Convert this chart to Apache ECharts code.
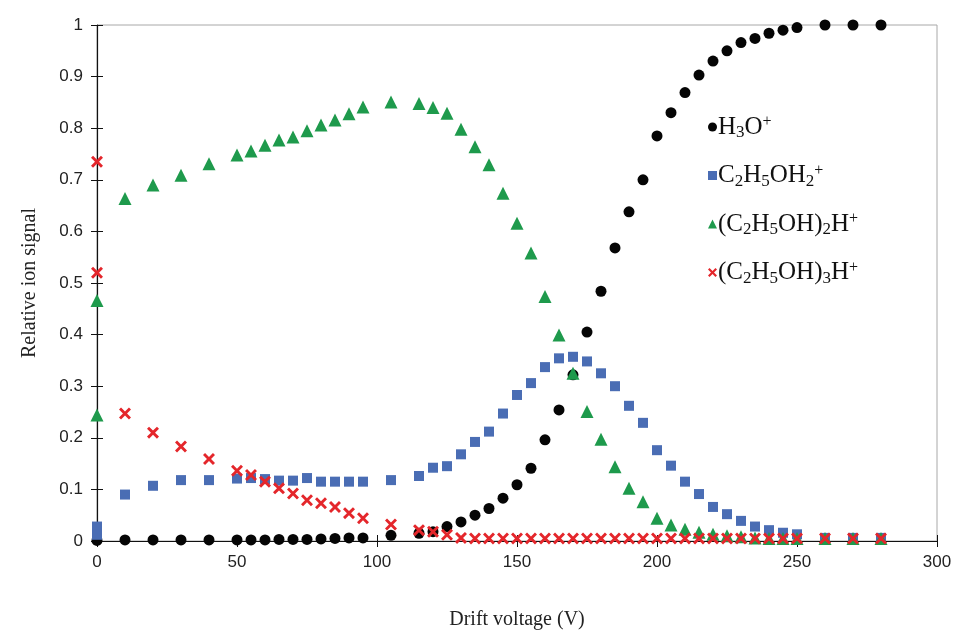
<!DOCTYPE html>
<html>
<head>
<meta charset="utf-8">
<script src="https://cdn.jsdelivr.net/npm/echarts@6/dist/echarts.min.js"></script>
<style>html,body{margin:0;padding:0;background:#fff;}#c{width:959px;height:631px;}</style>
</head>
<body>
<div id="c"></div>
<script>
const voltage = [0,10,20,30,40,50,55,60,65,70,75,80,85,90,95,105,115,120,125,130,135,140,145,150,155,160,165,170,175,180,185,190,195,200,205,210,215,220,225,230,235,240,245,250,260,270,280];
const h3o = [0.001,0.002,0.002,0.002,0.002,0.002,0.002,0.002,0.003,0.003,0.003,0.004,0.005,0.006,0.006,0.011,0.015,0.018,0.028,0.037,0.050,0.063,0.083,0.109,0.141,0.196,0.254,0.322,0.405,0.484,0.568,0.638,0.700,0.785,0.830,0.869,0.903,0.930,0.950,0.966,0.974,0.984,0.990,0.995,1.0,1.0,1.0];
const monomer = [0.028,0.090,0.107,0.118,0.118,0.121,0.122,0.120,0.117,0.117,0.122,0.115,0.115,0.115,0.115,0.118,0.126,0.142,0.145,0.168,0.192,0.212,0.247,0.283,0.306,0.337,0.354,0.357,0.348,0.325,0.300,0.262,0.229,0.176,0.146,0.115,0.091,0.066,0.052,0.039,0.028,0.021,0.016,0.013,0.006,0.006,0.006];
const dimer = [0.466,0.664,0.690,0.709,0.731,0.748,0.756,0.767,0.777,0.783,0.795,0.806,0.816,0.828,0.841,0.851,0.848,0.840,0.829,0.798,0.764,0.729,0.674,0.616,0.558,0.474,0.399,0.325,0.251,0.197,0.144,0.102,0.076,0.044,0.031,0.023,0.017,0.013,0.010,0.008,0.006,0.005,0.005,0.005,0.005,0.005,0.005];
const trimer = [0.735,0.247,0.210,0.183,0.159,0.136,0.128,0.115,0.102,0.092,0.079,0.073,0.066,0.054,0.044,0.032,0.021,0.018,0.012,0.006,0.005,0.005,0.005,0.005,0.005,0.005,0.005,0.005,0.005,0.005,0.005,0.005,0.005,0.005,0.005,0.005,0.005,0.005,0.005,0.005,0.005,0.005,0.005,0.005,0.005,0.005,0.005];
// additional repeated readings at 0 V
const extraV = [0];
const monomerExtra = [0.012];
const dimerExtra = [0.244];
const trimerExtra = [0.520];

const names = ['H3O+','C2H5OH2+','(C2H5OH)2H+','(C2H5OH)3H+'];
const richNames = {
  'H3O+': 'H{sub|3}O{sup|+}',
  'C2H5OH2+': 'C{sub|2}H{sub|5}OH{sub|2}{sup|+}',
  '(C2H5OH)2H+': '(C{sub|2}H{sub|5}OH){sub|2}H{sup|+}',
  '(C2H5OH)3H+': '(C{sub|2}H{sub|5}OH){sub|3}H{sup|+}'
};
const xTicks = [0,50,100,150,200,250,300];

function pairs(xs, ys, ex, ey){
  const out = xs.map((x,i)=>[x, ys[i]]);
  if (ex) ey.forEach((v,i)=>out.push([ex[i%ex.length], v]));
  return out;
}
const xPath = 'path://M0,1.7 L1.7,0 L5,3.3 L8.3,0 L10,1.7 L6.7,5 L10,8.3 L8.3,10 L5,6.7 L1.7,10 L0,8.3 L3.3,5 Z';

const chart = echarts.init(document.getElementById('c'), null, {renderer:'canvas'});
const serif = '"Liberation Serif","Times New Roman",serif';
const sans = '"Liberation Sans",Arial,sans-serif';
chart.setOption({
  animation:false,
  backgroundColor:'#fff',
  grid:{left:97,right:22,top:25,bottom:90,containLabel:false,outerBoundsMode:'none',show:true,borderColor:'#a8a8a8',borderWidth:1},
  legend:{
    orient:'vertical', left:703, top:109, itemGap:21, itemWidth:9, itemHeight:9,
    data:[
      {name:names[0], icon:'circle'},
      {name:names[1], icon:'rect'},
      {name:names[2], icon:'triangle'},
      {name:names[3], icon:xPath}
    ],
    formatter: n => richNames[n],
    textStyle:{fontFamily:serif,fontSize:25,color:'#111',padding:[0,0,0,-4],
      rich:{
        sub:{fontFamily:serif,fontSize:17,color:'#111',padding:[12,0,0,0]},
        sup:{fontFamily:serif,fontSize:16,color:'#111',padding:[0,0,10,0]}
      }}
  },
  xAxis:[{
    type:'value',min:0,max:300,interval:50,
    name:'Drift voltage (V)',nameLocation:'middle',nameGap:69,
    nameTextStyle:{fontFamily:serif,fontSize:20,color:'#222'},
    axisLine:{lineStyle:{color:'#111',width:1.2}},
    axisTick:{show:true,length:6,lineStyle:{color:'#111'}},
    axisLabel:{fontFamily:sans,fontSize:17,color:'#222',margin:13,formatter:v=>xTicks.includes(v)?String(v):''},
    splitLine:{show:false}
  },{
    type:'value',min:0,max:300,interval:50,position:'bottom',
    axisLine:{show:false},axisTick:{show:true,inside:true,length:6,lineStyle:{color:'#111'}},
    axisLabel:{show:false},splitLine:{show:false}
  }],
  yAxis:[{
    type:'value',min:0,max:1,interval:0.1,
    name:'Relative ion signal',nameLocation:'middle',nameGap:57,
    nameTextStyle:{fontFamily:serif,fontSize:20,color:'#222'},
    axisLine:{show:true,lineStyle:{color:'#111',width:1.2}},
    axisTick:{show:true,length:6,lineStyle:{color:'#111'}},
    axisLabel:{fontFamily:sans,fontSize:17,color:'#222',margin:14,formatter:v=>String(Math.round(v*10)/10)},
    splitLine:{show:false}
  },{
    type:'value',min:0,max:1,interval:0.1,position:'left',
    axisLine:{show:false},axisTick:{show:true,inside:true,length:6,lineStyle:{color:'#111'}},
    axisLabel:{show:false},splitLine:{show:false}
  }],
  series:[
    {name:names[0],type:'scatter',symbol:'circle',symbolSize:11,itemStyle:{color:'#050505',opacity:1},data:pairs(voltage,h3o)},
    {name:names[1],type:'scatter',symbol:'rect',symbolSize:10,itemStyle:{color:'#4a6db4',opacity:1},data:pairs(voltage,monomer,extraV,monomerExtra)},
    {name:names[2],type:'scatter',symbol:'triangle',symbolSize:13,itemStyle:{color:'#1e9a4c',opacity:1},data:pairs(voltage,dimer,extraV,dimerExtra)},
    {name:names[3],type:'scatter',symbol:xPath,symbolSize:12,itemStyle:{color:'#e4262b',opacity:1},data:pairs(voltage,trimer,extraV,trimerExtra)}
  ]
});
</script>
</body>
</html>
